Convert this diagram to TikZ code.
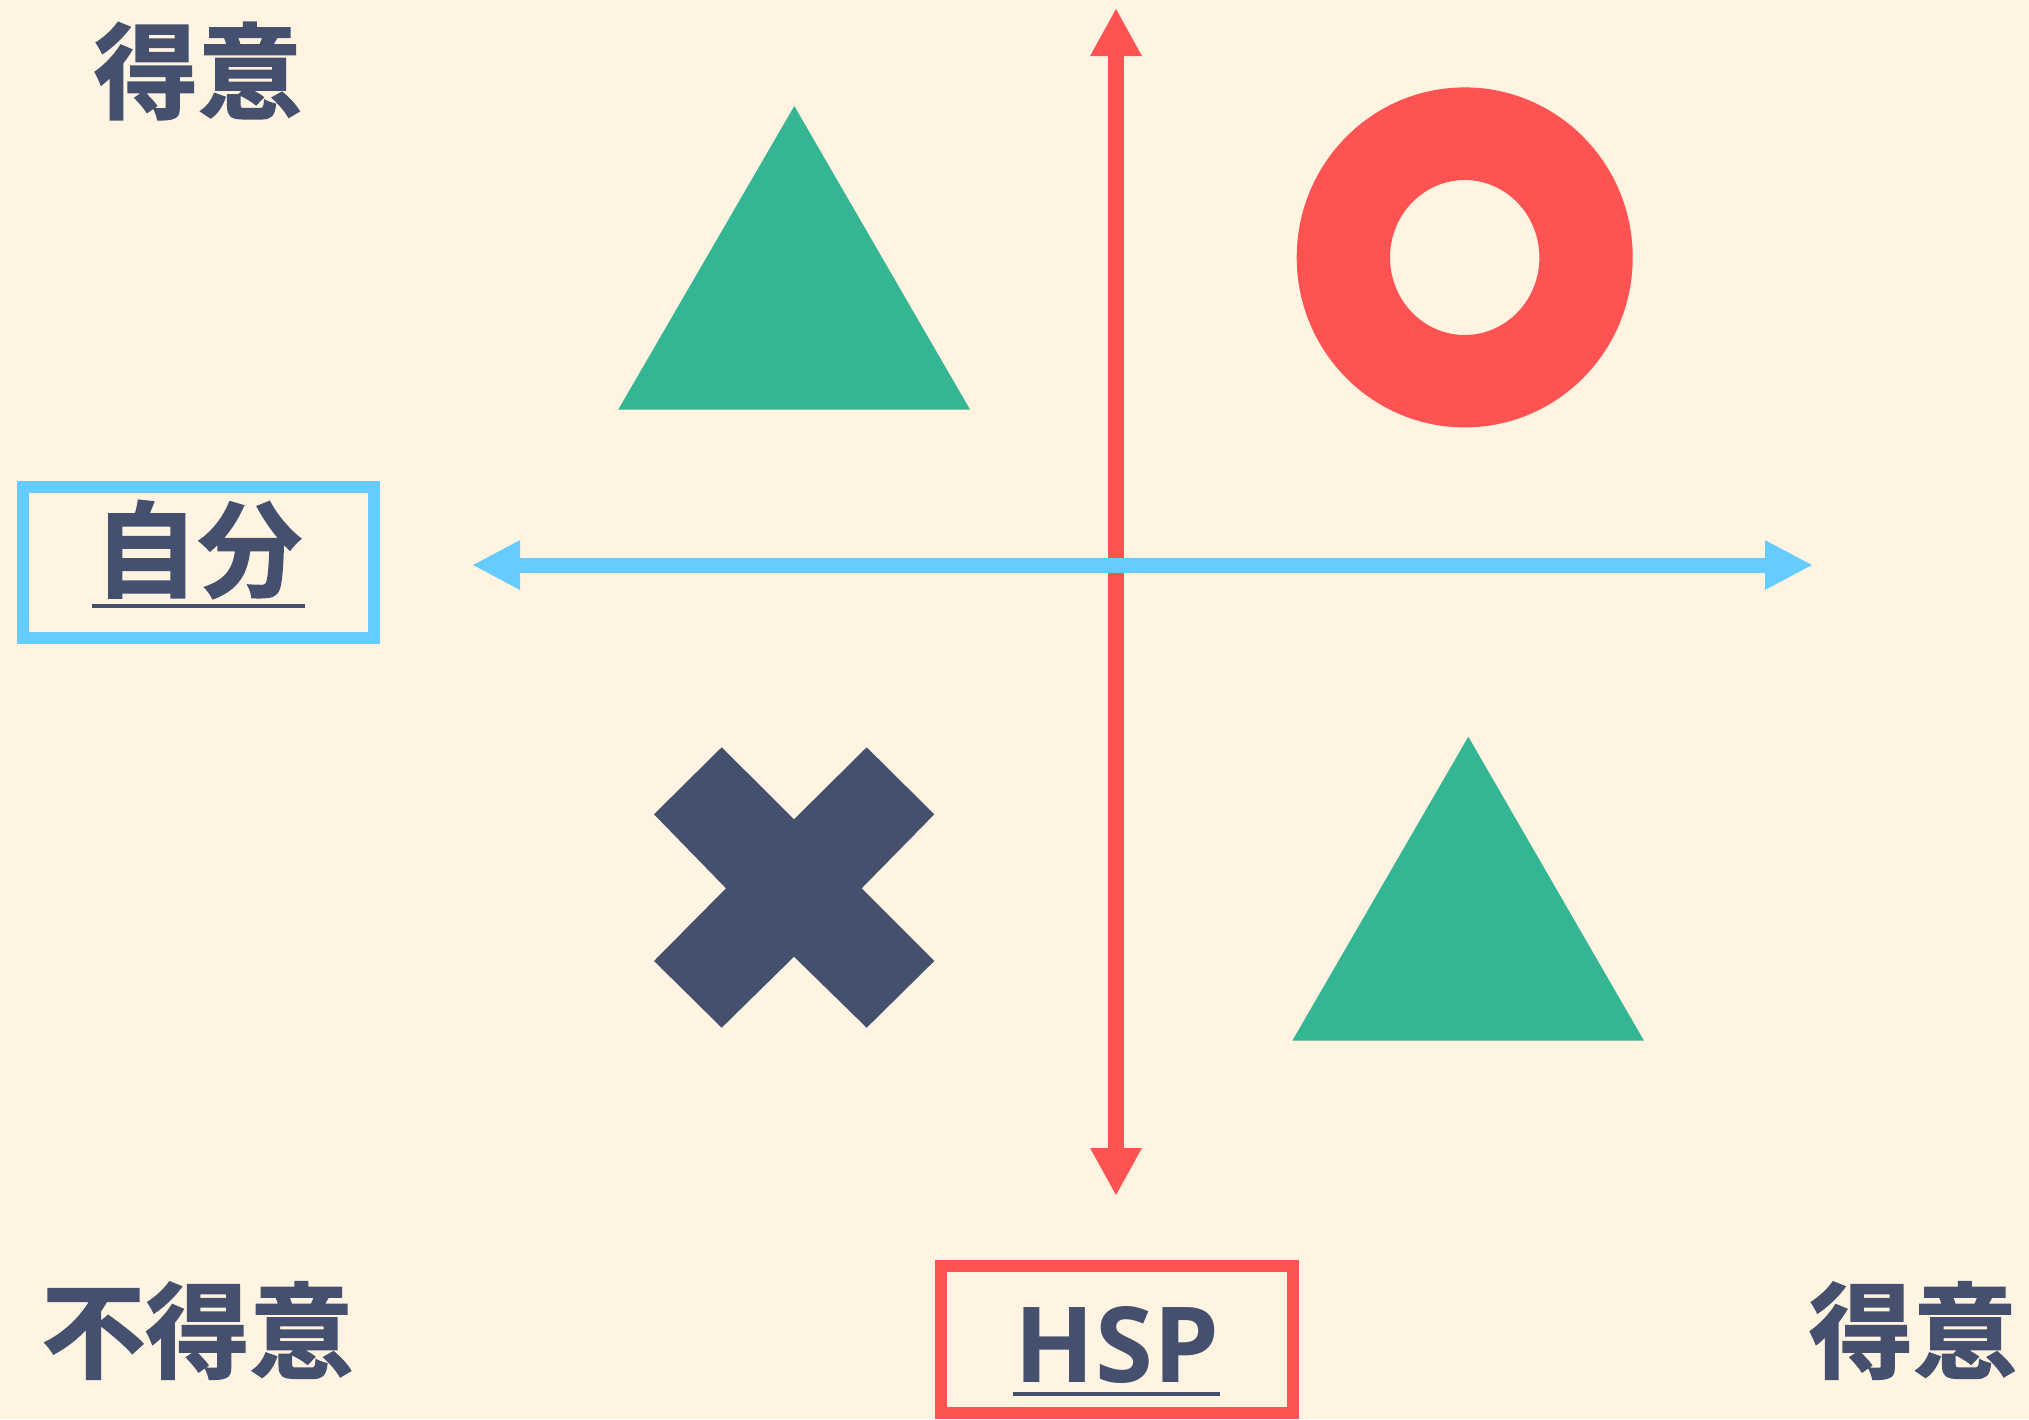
\documentclass[tikz,border=0pt]{standalone}
\usepackage{fontspec}
\usetikzlibrary{arrows.meta}
\newfontfamily\cjkfont{Noto Sans CJK JP Bold}[FakeBold=1.5]
\newfontfamily\latfont{Open Sans}
\definecolor{bgcol}{HTML}{FFF4E2}
\definecolor{ink}{HTML}{454F6E}
\definecolor{redc}{HTML}{FF5252}
\definecolor{bluec}{HTML}{66CCFF}
\definecolor{greenc}{HTML}{34B593}
\tikzset{
  lbl/.style={inner sep=0pt, outer sep=0pt, text=ink, font=\cjkfont\fontsize{104}{104}\selectfont},
  hsplbl/.style={inner sep=0pt, outer sep=0pt, text=ink, font=\latfont\bfseries\fontsize{105}{105}\selectfont},
  vaxis/.style={draw=redc, line width=16pt, {Triangle[length=48pt,width=48pt]}-{Triangle[length=48pt,width=48pt]}},
  haxis/.style={draw=bluec, line width=15pt, {Triangle[length=48pt,width=46pt]}-{Triangle[length=48pt,width=46pt]}},
  ul/.style={draw=ink, line width=4.5pt},
}
\begin{document}
\begin{tikzpicture}[x=1pt,y=-1pt]
\useasboundingbox (0,0) rectangle (2029,1419);
\fill[bgcol] (0,0) rectangle (2029,1419);
\begin{scope}
\clip (0,0) rectangle (2029,1419);
% shapes
\fill[greenc] (794.3,106) -- (618.3,409.5) -- (970,409.5) -- cycle;
\fill[greenc] (1468.3,736.7) -- (1292.3,1040.7) -- (1644,1040.7) -- cycle;
\fill[redc, even odd rule] (1464.7,257.4) ellipse [x radius=168pt, y radius=170pt]
  (1464.7,257.5) ellipse [x radius=74.7pt, y radius=77.5pt];
\fill[ink] (721.7,747.3) -- (794,819.3) -- (866.7,747.3) -- (934.3,814.3) -- (861.7,888.3)
  -- (934.3,961) -- (866.7,1027.7) -- (794,956.7) -- (721.7,1027.7) -- (654,961)
  -- (726,888.3) -- (654,814.3) -- cycle;
% axes
\coordinate (vtop) at (1116,8);
\coordinate (vbot) at (1116,1196);
\coordinate (hleft) at (472,565);
\coordinate (hright) at (1813,565);
\draw[vaxis] (vbot) -- (vtop);
\draw[haxis] (hleft) -- (hright);
% labels
\node[lbl] (tl) at (198,71) {得意};
\node[lbl] (bl) at (197.5,1330.5) {不得意};
\node[lbl] (br) at (1913,1330.5) {得意};
\node[lbl] (jibun) at (198,549.5) {自分};
\draw[ul] (92,606) -- (305,606);
\draw[draw=bluec, line width=12pt] (23,487) rectangle (374,638);
\node[hsplbl, anchor=base] (hsp) at (1117,1382) {HSP};
\draw[ul] (1013,1394) -- (1220,1394);
\draw[draw=redc, line width=12pt] (941,1266) rectangle (1293,1413);
\end{scope}
\end{tikzpicture}
\end{document}
